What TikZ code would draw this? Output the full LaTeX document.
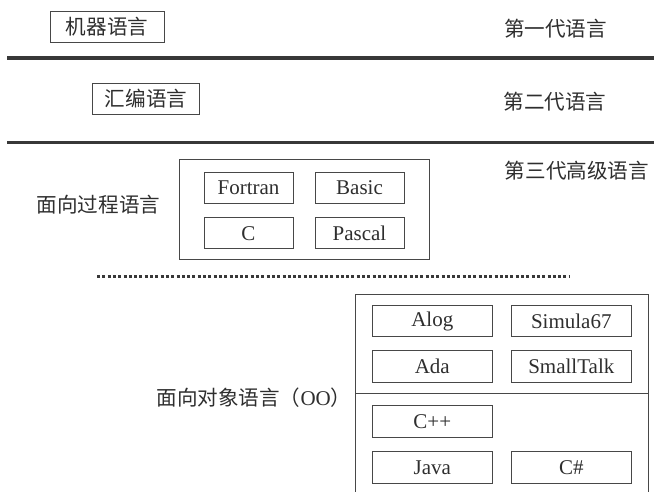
\documentclass[tikz,border=0pt]{standalone}
\usepackage{fontspec}
\setmainfont{Liberation Serif}
\newfontfamily\cjk{Noto Sans CJK SC}[Scale=0.98]
\begin{document}
\begin{tikzpicture}[x=1pt,y=-1pt,
  txt/.style={font=\fontsize{21}{24}\selectfont, text=black!82, inner sep=0pt},
  langbox/.style={txt, draw=black!72, line width=0.9pt, minimum width=120pt, minimum height=31.5pt},
  smallbox/.style={txt, draw=black!72, line width=0.9pt, minimum width=89pt, minimum height=31pt},
  genbox/.style={txt, draw=black!72, line width=0.9pt, minimum height=31pt},
  frame/.style={draw=black!72, line width=0.9pt},
  sepline/.style={draw=black!78, line width=3.6pt},
  dotline/.style={draw=black!78, line width=3pt, dash pattern=on 3pt off 2.3pt}
]
\useasboundingbox (0,0) rectangle (654,492);

% first generation
\node[genbox, minimum width=114pt] (m1) at (107,27) {\cjk 机器语言};
\node[txt] (g1) at (555.5,29) {\cjk 第一代语言};
\draw[sepline] (7,58.3) -- (654,58.3);

% second generation
\node[genbox, minimum width=107pt] (m2) at (146,98.5) {\cjk 汇编语言};
\node[txt] (g2) at (555,101.5) {\cjk 第二代语言};
\draw[sepline] (7,142.7) -- (654,142.7);

% third generation
\node[txt] (g3) at (577,170.7) {\cjk 第三代高级语言};
\draw[frame] (179,159.3) rectangle (429,259.3);
\node[smallbox] (fortran) at (248.5,187.7) {Fortran};
\node[smallbox] (basic) at (359.5,187.7) {Basic};
\node[smallbox] (c) at (248.5,233.3) {C};
\node[smallbox] (pascal) at (359.5,233.3) {Pascal};
\node[txt] (proc) at (98.5,205) {\cjk 面向过程语言};

\draw[dotline] (97,276) -- (570,276);

% object oriented
\draw[frame] (355,500) -- (355,294) -- (648,294) -- (648,500);
\draw[frame] (355,393.3) -- (648,393.3);
\node[langbox] (alog) at (432.3,321) {Alog};
\node[langbox] (simula) at (571.3,321) {Simula67};
\node[langbox] (ada) at (432.3,366.3) {Ada};
\node[langbox] (smalltalk) at (571.3,366.3) {SmallTalk};
\node[langbox] (cpp) at (432.3,421.2) {C++};
\node[langbox] (java) at (432.3,467.5) {Java};
\node[langbox] (csharp) at (571.3,467.5) {C\#};
\node[txt] (oo) at (254,398) {{\cjk 面向对象语言（}OO{\cjk ）}};
\end{tikzpicture}
\end{document}
